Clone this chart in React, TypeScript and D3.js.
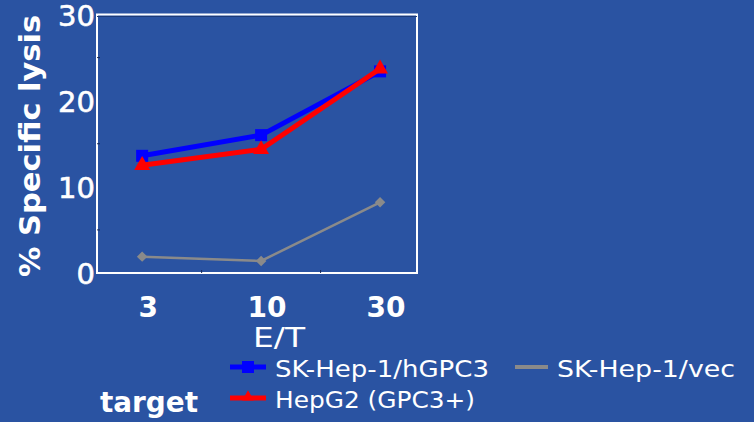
import * as d3 from 'd3'

// E/T ratios and % specific lysis
const ratios = ['3', '10', '30']
const skHepGpc3 = [13.6, 16.0, 23.4]
const hepG2 = [12.5, 14.35, 23.7]
const skHepVec = [1.9, 1.4, 8.2]
const yTicks = [0, 10, 20, 30]
const yMinorTicks = [5, 15, 25]

const W = 754
const H = 422
const BG = '#2a53a2'
const FONT = '"DejaVu Sans", Verdana, sans-serif'

export default function App() {
  const left = 97
  const right = 417
  const top = 14.5
  const bottom = 273

  const x = d3.scalePoint<string>()
    .domain(ratios)
    .range([left, right])
    .padding(0.345)
    .align(0.55)

  const y = d3.scaleLinear().domain([0, 30]).range([bottom, top])

  const line = d3.line<number>()
    .x((_, i) => x(ratios[i])!)
    .y(d => y(d))

  // minor x ticks sit between the categories
  const xMinor = [0, 1].map(i => (x(ratios[i])! + x(ratios[i + 1])!) / 2)

  const tri = d3.symbol(d3.symbolTriangle, 110)()
  const diamond = d3.symbol(d3.symbolSquare, 55)()

  return (
    <svg width={W} height={H} style={{ position: 'absolute', left: 0, top: 0 }} fontFamily={FONT}>
      <rect width={W} height={H} fill={BG} />

      {/* plot frame */}
      <rect x={left} y={top} width={right - left} height={bottom - top} fill="none" stroke="#ffffff" strokeWidth={2} />
      <line x1={left} x2={right} y1={top + 2} y2={top + 2} stroke="#1c3a78" strokeWidth={1} />

      {yMinorTicks.map(t => (
        <line key={t} x1={left} x2={left + 3} y1={y(t)} y2={y(t)} stroke="#1a2a55" strokeWidth={1} />
      ))}
      {xMinor.map((mx, i) => (
        <line key={i} x1={mx} x2={mx} y1={bottom} y2={bottom - 3} stroke="#1a2a55" strokeWidth={1} />
      ))}

      {/* y tick labels */}
      {yTicks.map(t => (
        <text key={t} x={left - 2} y={y(t) + 11} textAnchor="end" fontSize={29} fill="#ffffff" stroke="#ffffff" strokeWidth={0.6}>
          {t}
        </text>
      ))}

      {/* x tick labels */}
      {ratios.map(r => (
        <text key={r} x={x(r)! + 6} y={317} textAnchor="middle" fontSize={28} fontWeight="bold" fill="#ffffff">
          {r}
        </text>
      ))}

      <text x={279} y={347} textAnchor="middle" fontSize={27} fill="#ffffff" textLength={52} lengthAdjust="spacingAndGlyphs">E/T</text>

      <text
        transform="translate(40,146) rotate(-90)"
        textAnchor="middle"
        fontSize={28}
        fontWeight="bold"
        fill="#ffffff"
        textLength={262}
        lengthAdjust="spacingAndGlyphs"
      >
        % Specific lysis
      </text>

      {/* series */}
      <path d={line(skHepVec)!} fill="none" stroke="#8a8a8a" strokeWidth={2.5} />
      {skHepVec.map((v, i) => (
        <path key={i} d={diamond!} transform={`translate(${x(ratios[i])},${y(v)}) rotate(45)`} fill="#8a8a8a" />
      ))}

      <path d={line(skHepGpc3)!} fill="none" stroke="#0000ff" strokeWidth={5} />
      {skHepGpc3.map((v, i) => (
        <rect key={i} x={x(ratios[i])! - 6} y={y(v) - 6} width={12} height={12} fill="#0000ff" />
      ))}

      <path d={line(hepG2)!} fill="none" stroke="#ff0000" strokeWidth={5} />
      {hepG2.map((v, i) => (
        <path key={i} d={tri!} transform={`translate(${x(ratios[i])},${y(v)})`} fill="#ff0000" />
      ))}

      {/* legend */}
      <line x1={230} x2={266} y1={367} y2={367} stroke="#0000ff" strokeWidth={5} />
      <rect x={242} y={361} width={12} height={12} fill="#0000ff" />
      <text x={275} y={377} fontSize={23} fill="#ffffff" textLength={214} lengthAdjust="spacingAndGlyphs">SK-Hep-1/hGPC3</text>

      <line x1={230} x2={266} y1={398} y2={398} stroke="#ff0000" strokeWidth={5} />
      <path d={d3.symbol(d3.symbolTriangle, 60)()!} transform="translate(248,397)" fill="#ff0000" />
      <text x={275} y={408} fontSize={23} fill="#ffffff" textLength={200} lengthAdjust="spacingAndGlyphs">HepG2 (GPC3+)</text>

      <line x1={515} x2={548} y1={367} y2={367} stroke="#8a8a8a" strokeWidth={4} />
      <text x={557} y={377} fontSize={23} fill="#ffffff" textLength={178} lengthAdjust="spacingAndGlyphs">SK-Hep-1/vec</text>

      <text x={100} y={412} fontSize={28} fontWeight="bold" fill="#ffffff" textLength={98} lengthAdjust="spacingAndGlyphs">target</text>
    </svg>
  )
}
